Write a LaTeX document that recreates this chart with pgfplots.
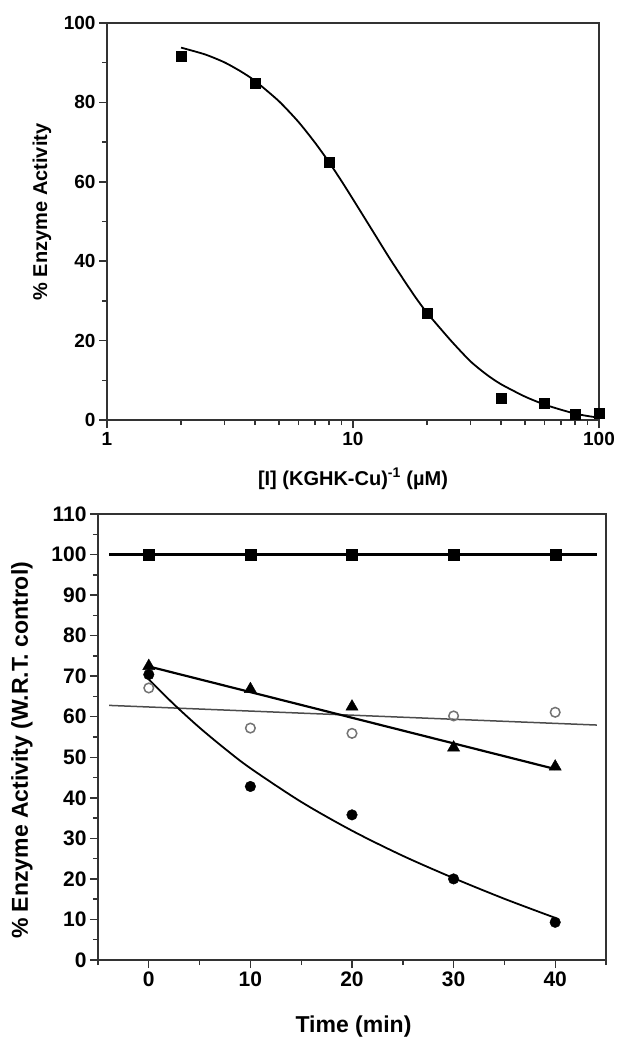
\documentclass[border=0pt]{standalone}
\usepackage{fontspec}
\setmainfont{Liberation Sans}
\usepackage{pgfplots}
\pgfplotsset{compat=1.18}
\begin{document}
\begin{tikzpicture}
\useasboundingbox (0,0) rectangle (622pt,-1050pt);
% ---------------- top panel ----------------
\begin{axis}[
  at={(107pt,-420pt)}, anchor=south west,
  width=492pt, height=397pt, scale only axis,
  xmode=log, xmin=1, xmax=100, ymin=0, ymax=100,
  log ticks with fixed point,
  ytick={0,20,...,100}, minor ytick={10,30,...,90},
  tick align=outside, xtick pos=bottom, ytick pos=left,
  major tick length=8pt, minor tick length=5pt,
  axis line style={line width=1.7pt, black!80},
  every tick/.style={line width=1.5pt, black!80},
  /pgf/number format/assume math mode=true,
  ticklabel style={font=\fontsize{19}{21}\selectfont\bfseries},
  xticklabel style={yshift=-1pt},
  label style={font=\fontsize{20}{22}\selectfont\bfseries},
  xlabel={[I] (KGHK-Cu)\textsuperscript{-1} (µM)},
  ylabel={\% Enzyme Activity},
  xlabel style={at={(axis description cs:0.5,0)}, anchor=center, yshift=-59pt},
  ylabel style={at={(axis description cs:-0.132,0.524)}, anchor=center},
]
\addplot[black, line width=1.8pt, smooth, tension=0.4] coordinates {
(2.0,93.8) (2.5,92.1) (3,90.1) (3.5,87.8) (4,85.4) (5,80.3) (6,75.1) (7,69.9)
(8,64.9) (9,60.1) (10,55.6) (12,47.7) (14,41.0) (16,35.5) (18,30.8) (20,27.0)
(25,20.0) (30,14.8) (35,11.4) (40,9.0) (50,5.9) (60,3.9) (70,2.6) (80,1.6)
(90,1.0) (100,0.6)};
\addplot[only marks, mark=square*, mark size=5pt, black] coordinates {
(2,91.6) (4,84.8) (8,64.9) (20,26.8) (40,5.6) (60,4.3) (80,1.5) (100,1.8)};
\end{axis}
% ---------------- bottom panel ----------------
\begin{axis}[
  at={(98pt,-960pt)}, anchor=south west,
  width=508pt, height=446pt, scale only axis,
  xmin=-5, xmax=45, ymin=0, ymax=110,
  xtick={0,10,...,40}, minor xtick={-5,5,...,45},
  ytick={0,10,...,110}, minor ytick={5,15,...,105},
  tick align=outside, xtick pos=bottom, ytick pos=left,
  major tick length=8pt, minor tick length=5pt,
  axis line style={line width=1.7pt, black!80},
  every tick/.style={line width=1.4pt, black!80},
  /pgf/number format/assume math mode=true,
  ticklabel style={font=\fontsize{21}{23}\selectfont\bfseries},
  label style={font=\fontsize{23}{25}\selectfont\bfseries},
  xlabel={Time (min)},
  ylabel={\% Enzyme Activity (W.R.T. control)},
  xlabel style={at={(axis description cs:0.503,0)}, anchor=center, yshift=-67pt},
  ylabel style={at={(axis description cs:-0.1496,0.47)}, anchor=center},
]
% control (squares)
\addplot[black, line width=2.6pt] coordinates {(-3.9,100) (44.1,100)};
\addplot[only marks, mark=square*, mark size=5.5pt, black] coordinates {
(0,100) (10,100) (20,100) (30,100) (40,100)};
% open circles
\addplot[black!70, line width=1.5pt] coordinates {(-3.9,62.8) (44.1,57.95)};
\addplot[only marks, mark=o, mark size=4.8pt, black!55, mark options={line width=1.5pt}] coordinates {
(0,67.1) (10,57.2) (20,55.9) (30,60.2) (40,61.1)};
% triangles
\addplot[black, line width=2.2pt] coordinates {(0,72.4) (40,47.1)};
\addplot[only marks, mark=triangle*, mark size=7pt, black] coordinates {
(0,72.5) (10,66.8) (20,62.5) (30,52.4) (40,47.7)};
% filled circles
\addplot[black, line width=1.8pt, smooth] coordinates {
(0,69.2) (2.5,63.0) (5,57.3) (7.5,52.1) (10,47.3) (15,39.0) (20,31.9)
(25,25.7) (30,20.2) (35,15.1) (40,10.4)};
\addplot[only marks, mark=*, mark size=5.3pt, black] coordinates {
(0,70.4) (10,42.8) (20,35.8) (30,20.0) (40,9.3)};
\end{axis}
\end{tikzpicture}
\end{document}
